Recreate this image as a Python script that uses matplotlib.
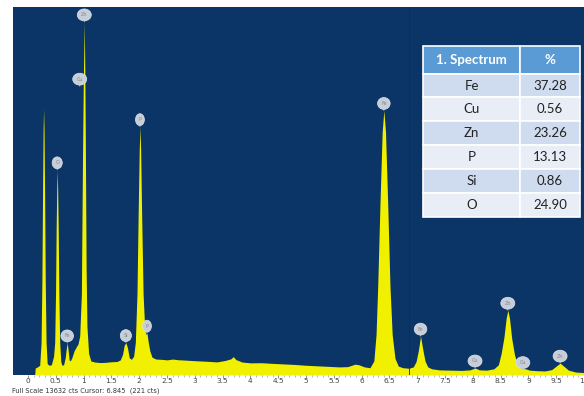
import matplotlib.pyplot as plt
import numpy as np
from matplotlib.patches import Rectangle

energia = [-0.27, 0.12, 0.13, 0.17, 0.21, 0.235, 0.25, 0.262, 0.272, 0.28, 0.288, 0.298, 0.31, 0.325, 0.345,
           0.38, 0.42, 0.46, 0.48, 0.495, 0.507, 0.517, 0.525, 0.533, 0.543, 0.555, 0.57, 0.59, 0.61,
           0.64, 0.67, 0.69, 0.705, 0.72, 0.74, 0.76,
           0.79, 0.83, 0.87, 0.90, 0.93, 0.96, 0.98, 0.995, 1.005, 1.012, 1.02, 1.03, 1.045, 1.06, 1.09, 1.13,
           1.2, 1.3, 1.4, 1.5, 1.6, 1.66, 1.70, 1.73, 1.76, 1.79, 1.82, 1.86, 1.9,
           1.93, 1.96, 1.98, 2.0, 2.013, 2.026, 2.045, 2.07, 2.10, 2.125, 2.14, 2.16, 2.19, 2.23, 2.3,
           2.4, 2.5, 2.6, 2.7, 2.8, 3.0, 3.2, 3.4, 3.55, 3.65, 3.69, 3.74, 3.85, 4.0, 4.2, 4.4, 4.6, 4.8,
           5.0, 5.2, 5.4, 5.6, 5.75, 5.88, 5.95, 6.05, 6.15,
           6.22, 6.26, 6.29, 6.33, 6.37, 6.40, 6.43, 6.47, 6.51, 6.55, 6.60, 6.66, 6.74, 6.85,
           6.93, 6.98, 7.02, 7.06, 7.10, 7.14, 7.19, 7.26, 7.4, 7.6, 7.8, 7.95, 8.04, 8.12, 8.25, 8.38,
           8.46, 8.51, 8.56, 8.60, 8.63, 8.66, 8.70, 8.75, 8.80, 8.86, 8.90, 8.95, 9.02, 9.15, 9.3,
           9.42, 9.5, 9.57, 9.64, 9.72, 9.85, 10.0]
cuentas = [0, 0, 260, 300, 360, 1200, 3500, 6800, 9100, 9850, 9100, 6800, 3500, 1200, 420,
           360, 380, 700, 1200, 3000, 5500, 6900, 7600, 6900, 5500, 3000, 1200, 500, 360,
           380, 650, 1000, 1190, 950, 560, 520,
           650, 900, 1050, 1150, 1450, 3000, 8000, 10900, 12200, 13080, 11500, 9000, 4000, 1800, 800, 520,
           480, 460, 470, 490, 500, 560, 760, 1100, 1200, 1000, 640, 580, 700,
           1200, 3000, 5800, 8300, 9200, 8300, 5800, 3000, 1650, 1500, 1550, 1250, 900, 660, 590,
           580, 560, 590, 565, 555, 530, 510, 485, 540, 600, 680, 570, 480, 450, 455, 430, 410, 390,
           360, 340, 320, 300, 310, 400, 380, 300, 270,
           520, 1500, 3300, 6300, 9000, 9800, 9000, 6300, 3300, 1500, 620, 330, 270, 250,
           300, 500, 900, 1440, 950, 520, 300, 230, 190, 180, 170, 190, 260, 190, 180, 230,
           380, 800, 1400, 2100, 2400, 2100, 1350, 750, 400, 250, 240, 230, 180, 160, 150,
           200, 330, 440, 320, 180, 110, 90]

# Etiquetas de lineas: simbolo, energia, altura del pico
lineas = ['Fe', 'Zn', 'Cu', 'O', 'Si', 'P', 'P', 'Fe', 'Fe', 'Cu', 'Zn', 'Cu', 'Zn']
lineas_e = [0.705, 1.012, 0.93, 0.525, 1.76, 2.013, 2.14, 6.40, 7.06, 8.04, 8.63, 8.90, 9.57]
lineas_y = [1190, 13080, 10700, 7600, 1200, 9200, 1550, 9800, 1440, 260, 2400, 200, 440]

# Tabla de composicion
elementos = ['Fe', 'Cu', 'Zn', 'P', 'Si', 'O']
porcentaje = [37.28, 0.56, 23.26, 13.13, 0.86, 24.90]

full_scale = 13632
cursor = 6.845

fig = plt.figure(figsize=(5.84, 3.96), dpi=100)
W, H = 584, 396
ax = fig.add_axes([13 / W, 21 / H, 571 / W, 368 / H])
ax.set_facecolor('#0b3566')
ax.fill_between(energia, cuentas, color='#f0f000', lw=0)
ax.axvline(cursor, color='#092f5c', lw=0.6)
ax.set_xlim(-0.27, 10.0)
ax.set_ylim(0, full_scale)
ax.set_yticks([])
for s in ax.spines.values():
    s.set_visible(False)

mayores = np.arange(0, 10.01, 0.5)
ax.set_xticks(mayores)
ax.set_xticklabels([f'{v:g}' for v in mayores], fontsize=5.3, color='#444444')
ax.set_xticks(np.arange(0, 10.01, 0.1), minor=True)
ax.tick_params(axis='x', which='major', length=1.8, width=0.5, color='#666666', pad=0.5)
ax.tick_params(axis='x', which='minor', length=1.2, width=0.4, color='#888888')

for sim, e, y in zip(lineas, lineas_e, lineas_y):
    ax.annotate(sim, xy=(e, y), xytext=(0, 7), textcoords='offset pixels',
                ha='center', va='center', fontsize=3.5, color='#7f8896',
                bbox=dict(boxstyle='ellipse,pad=0.35', fc='#c7ced8', ec='#dfe4ea', lw=0.5),
                arrowprops=dict(arrowstyle='-', color='#b8bfc8', lw=0.6))

fig.text(12 / W, 1 - 390.5 / H, f'Full Scale {full_scale} cts Cursor: {cursor:.3f}  (221 cts)',
         fontsize=4.8, color='#333333', va='center')


def px(x, y):
    return x / W, 1 - y / H


# Tabla dibujada sobre el espectro
filas = [46, 74, 97, 121, 145, 169, 193, 217]
x0, xm, x1 = 423, 520, 580
fuente = 'Lato'
for i in range(len(filas) - 1):
    top, bot = filas[i], filas[i + 1]
    if i == 0:
        color = '#5b9bd5'
    elif i % 2 == 1:
        color = '#cfdbee'
    else:
        color = '#e8edf6'
    for a, b in [(x0, xm), (xm, x1)]:
        fx, fy = px(a, bot)
        fig.add_artist(Rectangle((fx, fy), (b - a) / W, (bot - top) / H,
                                 transform=fig.transFigure, fc=color, ec='white', lw=1.2))
    cy = px(0, (top + bot) / 2)[1]
    if i == 0:
        fig.text(px((x0 + xm) / 2, 0)[0], cy, '1. Spectrum', ha='center', va='center',
                 fontsize=9.5, fontweight='bold', color='white', family=fuente)
        fig.text(px((xm + x1) / 2, 0)[0], cy, '%', ha='center', va='center',
                 fontsize=9.5, fontweight='bold', color='white', family=fuente)
    else:
        fig.text(px((x0 + xm) / 2, 0)[0], cy, elementos[i - 1], ha='center', va='center',
                 fontsize=9.5, color='#222222', family=fuente)
        fig.text(px((xm + x1) / 2, 0)[0], cy, f'{porcentaje[i - 1]:.2f}', ha='center', va='center',
                 fontsize=9.5, color='#222222', family=fuente)

fig.savefig('out.png', dpi=100)
